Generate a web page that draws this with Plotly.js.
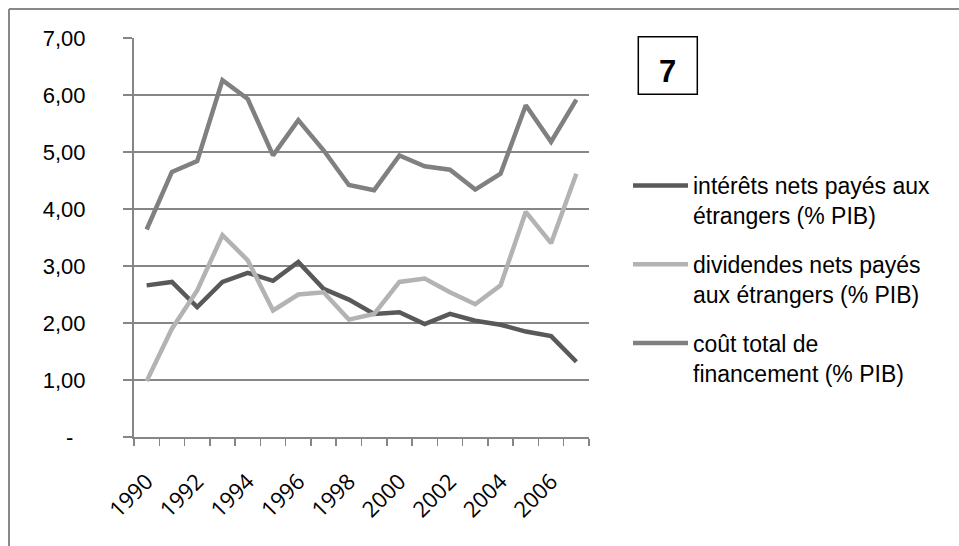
<!DOCTYPE html>
<html>
<head>
<meta charset="utf-8">
<script src="https://cdn.plot.ly/plotly-3.0.1.min.js"></script>
<style>html,body{margin:0;padding:0;overflow:hidden;background:#fff}</style>
</head>
<body>
<div id="chart" style="width:959px;height:546px"></div>
<script>
var years = [1990,1991,1992,1993,1994,1995,1996,1997,1998,1999,2000,2001,2002,2003,2004,2005,2006,2007];
var interets = [2.66,2.72,2.28,2.72,2.88,2.74,3.07,2.60,2.41,2.16,2.19,1.98,2.16,2.04,1.97,1.85,1.77,1.32];
var dividendes = [0.98,1.90,2.57,3.54,3.10,2.22,2.50,2.54,2.06,2.16,2.72,2.78,2.54,2.33,2.66,3.95,3.40,4.62];
var coutTotal = [3.64,4.65,4.84,6.26,5.93,4.94,5.56,5.03,4.42,4.33,4.94,4.75,4.69,4.34,4.62,5.82,5.18,5.92];
var seriesNames = ["intérêts nets payés aux<br>étrangers (% PIB)", "dividendes nets payés<br>aux étrangers (% PIB)", "coût total de<br>financement (% PIB)"];
var yTickVals = [0,1,2,3,4,5,6,7];
var yTickText = ["-\u00a0\u00a0","1,00","2,00","3,00","4,00","5,00","6,00","7,00"];
var xTickVals = [1990,1992,1994,1996,1998,2000,2002,2004,2006];
var xTickText = ["1990","1992","1994","1996","1998","2000","2002","2004","2006"];
var boxLabel = "7";

var boundaries = years.map(function(y){return y-0.5;}).concat([years[years.length-1]+0.5]);

var colors = ["#595959","#b3b3b3","#808080"];
var data = [interets, dividendes, coutTotal].map(function(vals,i){
  return {x: years, y: vals, type:'scatter', mode:'lines', name: seriesNames[i],
    line:{color:colors[i], width:4.5}, legendgroup:'g'+i, hoverinfo:'skip'};
});

var L=134, R=370, T=38, B=109, W=959, H=546;
var pw=W-L-R, ph=H-T-B;
function px(x){return (x-L)/pw;}
function py(y){return (H-B-y)/ph;}

var layout = {
  width:W, height:H,
  margin:{l:L, r:R, t:T, b:B, pad:0},
  paper_bgcolor:'#fff', plot_bgcolor:'#fff',
  showlegend:true,
  font:{family:'Liberation Sans, Arial, sans-serif', color:'#000'},
  xaxis:{
    range:[years[0]-0.5, years[years.length-1]+0.5],
    tickmode:'array', tickvals:xTickVals, ticktext:xTickText,
    tickangle:-45, ticks:'', showgrid:false, zeroline:false,
    showline:true, linecolor:'#868686', linewidth:2,
    tickfont:{family:'Open Sans, sans-serif', size:22, color:'#000'},
    ticklabelstandoff:21,
    minor:{tickmode:'array', tickvals:boundaries, ticks:'outside', ticklen:7, tickcolor:'#868686', tickwidth:1.5, showgrid:false},
    fixedrange:true
  },
  yaxis:{
    range:[0,7], tickmode:'array', tickvals:yTickVals, ticktext:yTickText,
    ticks:'outside', ticklen:9, tickcolor:'#868686', tickwidth:1.3,
    showgrid:true, gridcolor:'#868686', gridwidth:1.3,
    zeroline:false, showline:true, linecolor:'#868686', linewidth:2,
    tickfont:{family:'Liberation Sans, Arial, sans-serif', size:22, color:'#000'},
    ticklabelstandoff:33,
    fixedrange:true
  },
  legend:{
    x:px(628), y:py(164), xanchor:'left', yanchor:'top',
    font:{family:'Liberation Sans, Arial, sans-serif', size:23, color:'#000'},
    valign:'top', tracegroupgap:16, itemwidth:55,
    bgcolor:'rgba(0,0,0,0)', borderwidth:0
  },
  shapes:[
    {type:'line', xref:'paper', yref:'paper', x0:px(9), x1:px(1000), y0:py(9), y1:py(9), line:{color:'#888888', width:2}},
    {type:'line', xref:'paper', yref:'paper', x0:px(9), x1:px(9), y0:py(9), y1:py(600), line:{color:'#888888', width:2}},
    {type:'rect', xref:'paper', yref:'paper', x0:px(638.3), x1:px(697.3), y0:py(94.3), y1:py(36.7), line:{color:'#000', width:1.5}, fillcolor:'rgba(0,0,0,0)'}
  ],
  annotations:[
    {xref:'paper', yref:'paper', x:px(667.8), y:py(71.5), text:'<b>'+boxLabel+'</b>', showarrow:false,
     font:{family:'Liberation Sans, Arial, sans-serif', size:31, color:'#000'}, xanchor:'center', yanchor:'middle'}
  ]
};

Plotly.newPlot('chart', data, layout, {displayModeBar:false, staticPlot:true});
</script>
</body>
</html>
